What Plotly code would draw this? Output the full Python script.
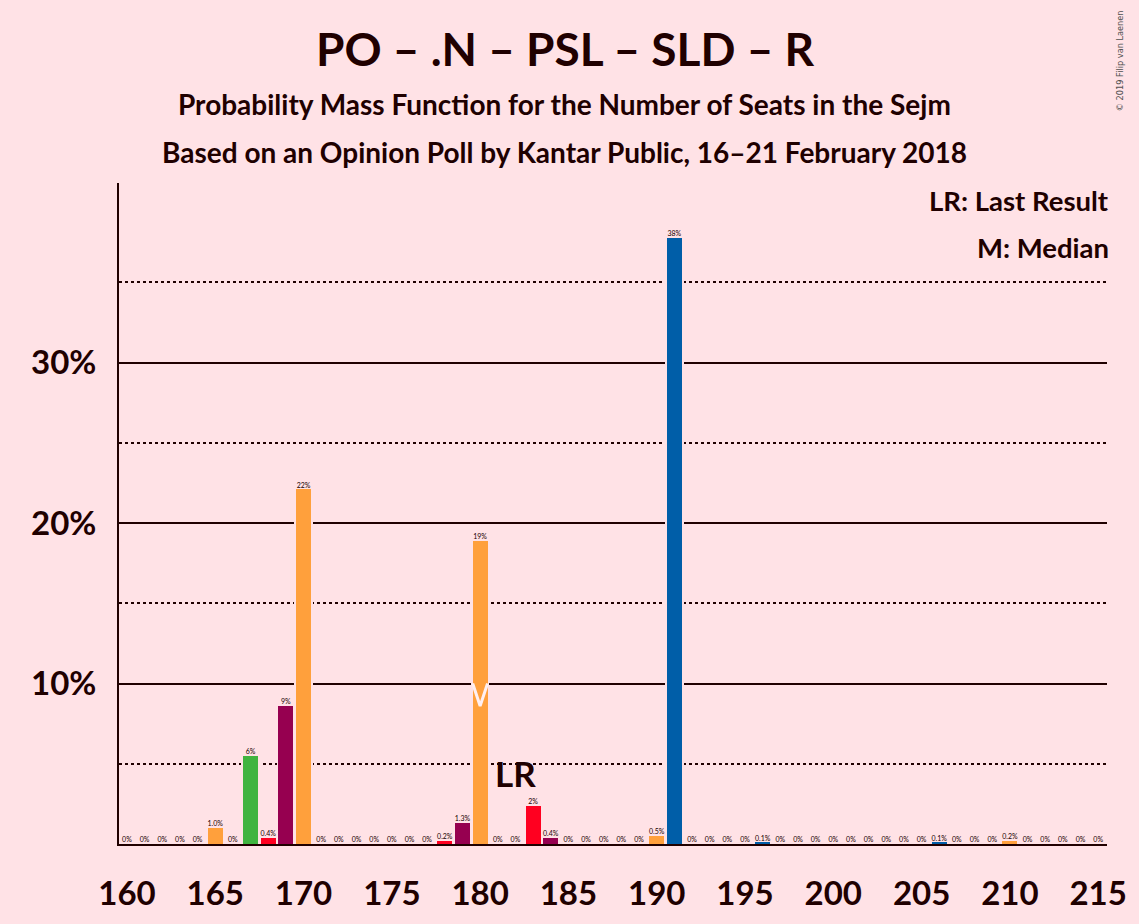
import plotly.graph_objects as go

# Seats in the Sejm and probability (in %) of each number of seats
seats = list(range(160, 216))
probs = [0, 0, 0, 0, 0, 1.0, 0, 5.5, 0.4, 8.6,
         22.1, 0, 0, 0, 0, 0, 0, 0, 0.2, 1.3,
         18.9, 0, 0, 2.4, 0.4, 0, 0, 0, 0, 0,
         0.5, 37.8, 0, 0, 0, 0, 0.1, 0, 0, 0,
         0, 0, 0, 0, 0, 0, 0.1, 0, 0, 0,
         0.2, 0, 0, 0, 0, 0]
bar_labels = ["0%", "0%", "0%", "0%", "0%", "1.0%", "0%", "6%", "0.4%", "9%",
              "22%", "0%", "0%", "0%", "0%", "0%", "0%", "0%", "0.2%", "1.3%",
              "19%", "0%", "0%", "2%", "0.4%", "0%", "0%", "0%", "0%", "0%",
              "0.5%", "38%", "0%", "0%", "0%", "0%", "0.1%", "0%", "0%", "0%",
              "0%", "0%", "0%", "0%", "0%", "0%", "0.1%", "0%", "0%", "0%",
              "0.2%", "0%", "0%", "0%", "0%", "0%"]
x_ticks = [160, 165, 170, 175, 180, 185, 190, 195, 200, 205, 210, 215]
y_ticks = [10, 20, 30]
y_ticktext = ["10%", "20%", "30%"]
y_minor = [5, 15, 25, 35]
last_result = 182
median = 180

BG = "#FFE2E6"
INK = "#200000"
ORANGE = "#FFA03C"
GREEN = "#40B440"
RED = "#FF0020"
PURPLE = "#960050"
BLUE = "#005EA8"

# colour of each bar (seat -> colour), everything else orange
special = {167: GREEN, 168: RED, 169: PURPLE, 178: RED, 179: PURPLE,
           183: RED, 184: PURPLE, 191: BLUE, 196: BLUE, 206: BLUE}
colours = [special.get(s, ORANGE) for s in seats]

fig = go.Figure()

# background coloured bars, so the grid lines stop a little before each bar
fig.add_trace(go.Bar(x=seats, y=probs, width=1.06, marker_color=BG,
                     marker_line_width=0, hoverinfo="skip", showlegend=False))
fig.add_trace(go.Bar(x=seats, y=probs, width=0.84, marker_color=colours,
                     marker_line_width=0, showlegend=False))

fig.add_trace(go.Scatter(x=seats, y=probs, mode="text", text=bar_labels,
                         textposition="top center",
                         textfont=dict(family="Lato", size=7, color=INK),
                         hoverinfo="skip", showlegend=False))

# median marker
fig.add_trace(go.Scatter(x=[median - 0.42, median, median + 0.42], y=[10, 8.6, 10],
                         mode="lines", line=dict(color="#FFF0F2", width=3),
                         hoverinfo="skip", showlegend=False))

fig.add_annotation(x=last_result, y=4.4, text="<b>LR</b>", showarrow=False,
                   font=dict(family="Lato", size=35, color=INK))

# plot area: 665 px high, 999 px wide
fig.add_annotation(x=1.004, y=0.973, xref="paper", yref="paper", xanchor="right",
                   yanchor="middle", text="<b>LR: Last Result</b>", showarrow=False,
                   font=dict(family="Lato", size=27.5, color=INK))
fig.add_annotation(x=1.004, y=0.902, xref="paper", yref="paper", xanchor="right",
                   yanchor="middle", text="<b>M: Median</b>", showarrow=False,
                   font=dict(family="Lato", size=27.5, color=INK))

fig.add_annotation(x=0.451, y=1.203, xref="paper", yref="paper", yanchor="middle",
                   text="<b>PO – .N – PSL – SLD – R</b>", showarrow=False,
                   font=dict(family="Lato", size=46, color=INK))
fig.add_annotation(x=0.451, y=1.119, xref="paper", yref="paper", yanchor="middle",
                   text="<b>Probability Mass Function for the Number of Seats in the Sejm</b>",
                   showarrow=False, font=dict(family="Lato", size=28, color=INK))
fig.add_annotation(x=0.451, y=1.047, xref="paper", yref="paper", yanchor="middle",
                   text="<b>Based on an Opinion Poll by Kantar Public, 16–21 February 2018</b>",
                   showarrow=False, font=dict(family="Lato", size=28, color=INK))

fig.add_annotation(x=1.014, y=1.265, xref="paper", yref="paper", xanchor="center",
                   yanchor="top", text="© 2019 Filip van Laenen", textangle=-90,
                   showarrow=False,
                   font=dict(family="DejaVu Sans", size=8.2, color="#505050"))

fig.update_layout(
    width=1139, height=924,
    margin=dict(l=119, r=21, t=183, b=76),
    paper_bgcolor=BG, plot_bgcolor=BG,
    barmode="overlay",
    bargap=0,
    xaxis=dict(range=[159.55, 215.5], tickvals=x_ticks, showgrid=False,
               showline=True, linecolor=INK, linewidth=2, ticks="",
               ticklabelstandoff=19, ticklabeloverflow="allow",
               tickfont=dict(family="Lato", size=33, color=INK, weight="bold"),
               zeroline=False),
    yaxis=dict(range=[0, 41.2], tickvals=y_ticks, ticktext=y_ticktext,
               showline=True, linecolor=INK, linewidth=2, ticks="",
               ticklabelstandoff=14,
               tickfont=dict(family="Lato", size=33, color=INK, weight="bold"),
               showgrid=True, gridcolor=INK, gridwidth=1.5,
               minor=dict(tickvals=y_minor, showgrid=True, gridcolor=INK,
                          gridwidth=1.5, griddash="dot"),
               zeroline=False),
)

# drop the page's default margin and scrollbars so the figure fills the window
page_js = ("document.body.style.margin = '0';"
           "document.body.style.overflow = 'hidden';"
           "document.documentElement.style.overflow = 'hidden';")
fig.write_html("out.html", post_script=page_js,
               config={"displayModeBar": False})
